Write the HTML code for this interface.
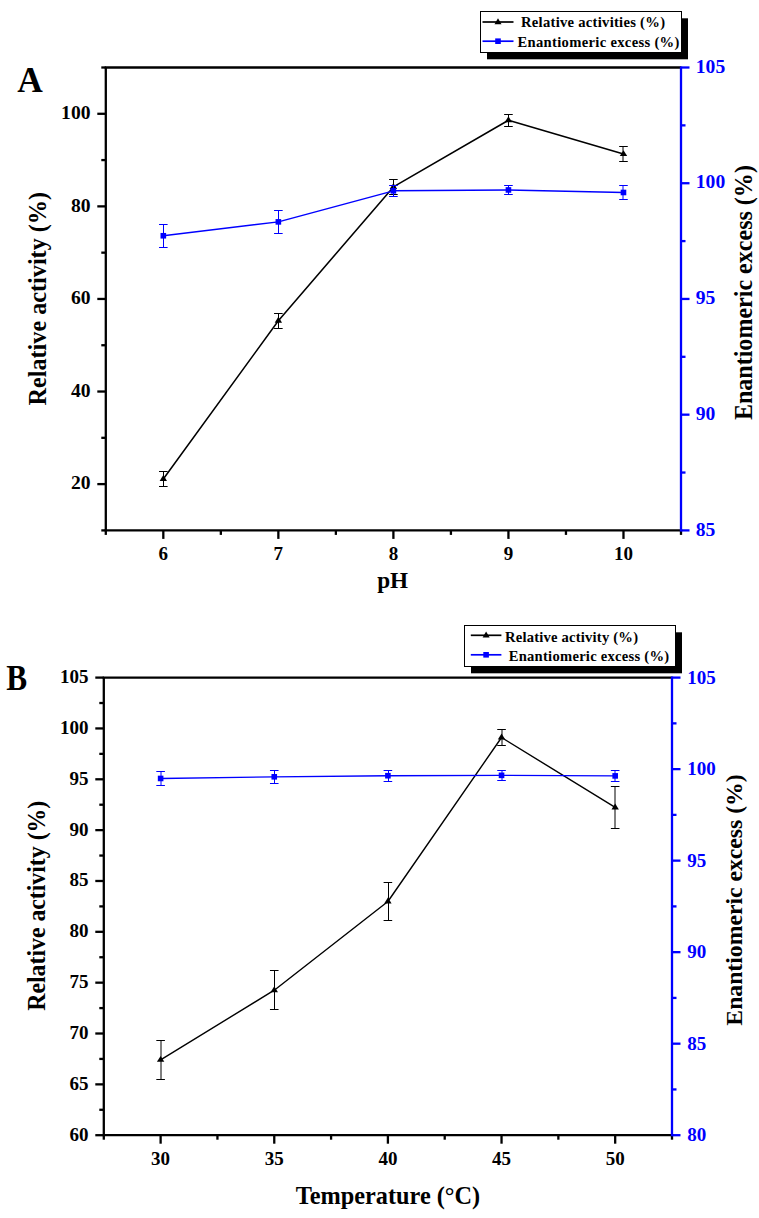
<!DOCTYPE html>
<html><head><meta charset="utf-8"><title>Chart</title>
<style>html,body{margin:0;padding:0;background:#fff;}svg{display:block;}
text{font-family:"Liberation Serif",serif;font-weight:bold;}</style></head>
<body><svg width="759" height="1218" viewBox="0 0 759 1218">
<rect width="759" height="1218" fill="#fff"/>
<line x1="97.3" y1="484.11" x2="105.8" y2="484.11" stroke="#000" stroke-width="2.3" stroke-linecap="butt"/>
<text x="90.5" y="489.41" font-size="19.6" text-anchor="end" fill="#000" >20</text>
<line x1="97.3" y1="391.53" x2="105.8" y2="391.53" stroke="#000" stroke-width="2.3" stroke-linecap="butt"/>
<text x="90.5" y="396.83" font-size="19.6" text-anchor="end" fill="#000" >40</text>
<line x1="97.3" y1="298.95" x2="105.8" y2="298.95" stroke="#000" stroke-width="2.3" stroke-linecap="butt"/>
<text x="90.5" y="304.25" font-size="19.6" text-anchor="end" fill="#000" >60</text>
<line x1="97.3" y1="206.37" x2="105.8" y2="206.37" stroke="#000" stroke-width="2.3" stroke-linecap="butt"/>
<text x="90.5" y="211.67" font-size="19.6" text-anchor="end" fill="#000" >80</text>
<line x1="97.3" y1="113.79" x2="105.8" y2="113.79" stroke="#000" stroke-width="2.3" stroke-linecap="butt"/>
<text x="90.5" y="119.09" font-size="19.6" text-anchor="end" fill="#000" >100</text>
<line x1="101.3" y1="530.4" x2="105.8" y2="530.4" stroke="#000" stroke-width="2.3" stroke-linecap="butt"/>
<line x1="101.3" y1="437.82" x2="105.8" y2="437.82" stroke="#000" stroke-width="2.3" stroke-linecap="butt"/>
<line x1="101.3" y1="345.24" x2="105.8" y2="345.24" stroke="#000" stroke-width="2.3" stroke-linecap="butt"/>
<line x1="101.3" y1="252.66" x2="105.8" y2="252.66" stroke="#000" stroke-width="2.3" stroke-linecap="butt"/>
<line x1="101.3" y1="160.08" x2="105.8" y2="160.08" stroke="#000" stroke-width="2.3" stroke-linecap="butt"/>
<line x1="101.3" y1="67.5" x2="105.8" y2="67.5" stroke="#000" stroke-width="2.3" stroke-linecap="butt"/>
<line x1="163.32" y1="530.4" x2="163.32" y2="538.9" stroke="#000" stroke-width="2.3" stroke-linecap="butt"/>
<text x="163.32" y="560.4" font-size="19" text-anchor="middle" fill="#000" >6</text>
<line x1="278.36" y1="530.4" x2="278.36" y2="538.9" stroke="#000" stroke-width="2.3" stroke-linecap="butt"/>
<text x="278.36" y="560.4" font-size="19" text-anchor="middle" fill="#000" >7</text>
<line x1="393.4" y1="530.4" x2="393.4" y2="538.9" stroke="#000" stroke-width="2.3" stroke-linecap="butt"/>
<text x="393.4" y="560.4" font-size="19" text-anchor="middle" fill="#000" >8</text>
<line x1="508.44" y1="530.4" x2="508.44" y2="538.9" stroke="#000" stroke-width="2.3" stroke-linecap="butt"/>
<text x="508.44" y="560.4" font-size="19" text-anchor="middle" fill="#000" >9</text>
<line x1="623.48" y1="530.4" x2="623.48" y2="538.9" stroke="#000" stroke-width="2.3" stroke-linecap="butt"/>
<text x="623.48" y="560.4" font-size="19" text-anchor="middle" fill="#000" >10</text>
<line x1="105.8" y1="530.4" x2="105.8" y2="534.9" stroke="#000" stroke-width="2.3" stroke-linecap="butt"/>
<line x1="220.84" y1="530.4" x2="220.84" y2="534.9" stroke="#000" stroke-width="2.3" stroke-linecap="butt"/>
<line x1="335.88" y1="530.4" x2="335.88" y2="534.9" stroke="#000" stroke-width="2.3" stroke-linecap="butt"/>
<line x1="450.92" y1="530.4" x2="450.92" y2="534.9" stroke="#000" stroke-width="2.3" stroke-linecap="butt"/>
<line x1="565.96" y1="530.4" x2="565.96" y2="534.9" stroke="#000" stroke-width="2.3" stroke-linecap="butt"/>
<line x1="681" y1="530.4" x2="681" y2="534.9" stroke="#000" stroke-width="2.3" stroke-linecap="butt"/>
<line x1="681" y1="530.4" x2="689.5" y2="530.4" stroke="#0000ff" stroke-width="2.3" stroke-linecap="butt"/>
<text x="695.8" y="535.5" font-size="19.6" text-anchor="start" fill="#0000ff" >85</text>
<line x1="681" y1="414.67" x2="689.5" y2="414.67" stroke="#0000ff" stroke-width="2.3" stroke-linecap="butt"/>
<text x="695.8" y="419.77" font-size="19.6" text-anchor="start" fill="#0000ff" >90</text>
<line x1="681" y1="298.95" x2="689.5" y2="298.95" stroke="#0000ff" stroke-width="2.3" stroke-linecap="butt"/>
<text x="695.8" y="304.05" font-size="19.6" text-anchor="start" fill="#0000ff" >95</text>
<line x1="681" y1="183.23" x2="689.5" y2="183.23" stroke="#0000ff" stroke-width="2.3" stroke-linecap="butt"/>
<text x="695.8" y="188.33" font-size="19.6" text-anchor="start" fill="#0000ff" >100</text>
<line x1="681" y1="67.5" x2="689.5" y2="67.5" stroke="#0000ff" stroke-width="2.3" stroke-linecap="butt"/>
<text x="695.8" y="72.6" font-size="19.6" text-anchor="start" fill="#0000ff" >105</text>
<line x1="681" y1="472.54" x2="685.5" y2="472.54" stroke="#0000ff" stroke-width="2.3" stroke-linecap="butt"/>
<line x1="681" y1="356.81" x2="685.5" y2="356.81" stroke="#0000ff" stroke-width="2.3" stroke-linecap="butt"/>
<line x1="681" y1="241.09" x2="685.5" y2="241.09" stroke="#0000ff" stroke-width="2.3" stroke-linecap="butt"/>
<line x1="681" y1="125.36" x2="685.5" y2="125.36" stroke="#0000ff" stroke-width="2.3" stroke-linecap="butt"/>
<line x1="104.7" y1="67.5" x2="681" y2="67.5" stroke="#000" stroke-width="2.3" stroke-linecap="butt"/>
<line x1="105.8" y1="67.5" x2="105.8" y2="530.4" stroke="#000" stroke-width="2.3" stroke-linecap="butt"/>
<line x1="104.7" y1="530.4" x2="682.1" y2="530.4" stroke="#000" stroke-width="2.3" stroke-linecap="butt"/>
<line x1="681" y1="66.4" x2="681" y2="531.5" stroke="#0000ff" stroke-width="2.3" stroke-linecap="butt"/>
<polyline points="163.32,479.02 278.36,320.71 393.4,186.93 508.44,120.27 623.48,154.06" fill="none" stroke="#000" stroke-width="1.55" stroke-linejoin="round"/>
<line x1="163.5" y1="471.5" x2="163.5" y2="486.5" stroke="#000" stroke-width="1.0" stroke-linecap="butt"/>
<line x1="159.02" y1="471.5" x2="167.62" y2="471.5" stroke="#000" stroke-width="1.0" stroke-linecap="butt"/>
<line x1="159.02" y1="486.5" x2="167.62" y2="486.5" stroke="#000" stroke-width="1.0" stroke-linecap="butt"/>
<path d="M163.32 475.08 L167.02 480.98 L159.62 480.98 Z" fill="#000"/>
<line x1="278.5" y1="313.5" x2="278.5" y2="328.5" stroke="#000" stroke-width="1.0" stroke-linecap="butt"/>
<line x1="274.06" y1="313.5" x2="282.66" y2="313.5" stroke="#000" stroke-width="1.0" stroke-linecap="butt"/>
<line x1="274.06" y1="328.5" x2="282.66" y2="328.5" stroke="#000" stroke-width="1.0" stroke-linecap="butt"/>
<path d="M278.36 316.77 L282.06 322.67 L274.66 322.67 Z" fill="#000"/>
<line x1="393.5" y1="179.5" x2="393.5" y2="194.5" stroke="#000" stroke-width="1.0" stroke-linecap="butt"/>
<line x1="389.1" y1="179.5" x2="397.7" y2="179.5" stroke="#000" stroke-width="1.0" stroke-linecap="butt"/>
<line x1="389.1" y1="194.5" x2="397.7" y2="194.5" stroke="#000" stroke-width="1.0" stroke-linecap="butt"/>
<path d="M393.4 182.99 L397.1 188.89 L389.7 188.89 Z" fill="#000"/>
<line x1="508.5" y1="114.5" x2="508.5" y2="126.5" stroke="#000" stroke-width="1.0" stroke-linecap="butt"/>
<line x1="504.14" y1="114.5" x2="512.74" y2="114.5" stroke="#000" stroke-width="1.0" stroke-linecap="butt"/>
<line x1="504.14" y1="126.5" x2="512.74" y2="126.5" stroke="#000" stroke-width="1.0" stroke-linecap="butt"/>
<path d="M508.44 116.34 L512.14 122.24 L504.74 122.24 Z" fill="#000"/>
<line x1="623" y1="146.5" x2="623" y2="161.5" stroke="#000" stroke-width="1.0" stroke-linecap="butt"/>
<line x1="619.18" y1="146.5" x2="627.78" y2="146.5" stroke="#000" stroke-width="1.0" stroke-linecap="butt"/>
<line x1="619.18" y1="161.5" x2="627.78" y2="161.5" stroke="#000" stroke-width="1.0" stroke-linecap="butt"/>
<path d="M623.48 150.13 L627.18 156.03 L619.78 156.03 Z" fill="#000"/>
<polyline points="163.32,235.76 278.36,221.88 393.4,190.86 508.44,189.94 623.48,192.48" fill="none" stroke="#0000ff" stroke-width="1.5" stroke-linejoin="round"/>
<line x1="163.5" y1="224.5" x2="163.5" y2="247.5" stroke="#0000ff" stroke-width="1.0" stroke-linecap="butt"/>
<line x1="159.02" y1="224.5" x2="167.62" y2="224.5" stroke="#0000ff" stroke-width="1.0" stroke-linecap="butt"/>
<line x1="159.02" y1="247.5" x2="167.62" y2="247.5" stroke="#0000ff" stroke-width="1.0" stroke-linecap="butt"/>
<rect x="160.52" y="232.96" width="5.6" height="5.6" fill="#0000ff"/>
<line x1="278.5" y1="210.5" x2="278.5" y2="233.5" stroke="#0000ff" stroke-width="1.0" stroke-linecap="butt"/>
<line x1="274.06" y1="210.5" x2="282.66" y2="210.5" stroke="#0000ff" stroke-width="1.0" stroke-linecap="butt"/>
<line x1="274.06" y1="233.5" x2="282.66" y2="233.5" stroke="#0000ff" stroke-width="1.0" stroke-linecap="butt"/>
<rect x="275.56" y="219.08" width="5.6" height="5.6" fill="#0000ff"/>
<line x1="393.5" y1="185.5" x2="393.5" y2="196.5" stroke="#0000ff" stroke-width="1.0" stroke-linecap="butt"/>
<line x1="389.1" y1="185.5" x2="397.7" y2="185.5" stroke="#0000ff" stroke-width="1.0" stroke-linecap="butt"/>
<line x1="389.1" y1="196.5" x2="397.7" y2="196.5" stroke="#0000ff" stroke-width="1.0" stroke-linecap="butt"/>
<rect x="390.6" y="188.06" width="5.6" height="5.6" fill="#0000ff"/>
<line x1="508.5" y1="185.5" x2="508.5" y2="194.5" stroke="#0000ff" stroke-width="1.0" stroke-linecap="butt"/>
<line x1="504.14" y1="185.5" x2="512.74" y2="185.5" stroke="#0000ff" stroke-width="1.0" stroke-linecap="butt"/>
<line x1="504.14" y1="194.5" x2="512.74" y2="194.5" stroke="#0000ff" stroke-width="1.0" stroke-linecap="butt"/>
<rect x="505.64" y="187.14" width="5.6" height="5.6" fill="#0000ff"/>
<line x1="623" y1="185.5" x2="623" y2="199.5" stroke="#0000ff" stroke-width="1.0" stroke-linecap="butt"/>
<line x1="619.18" y1="185.5" x2="627.78" y2="185.5" stroke="#0000ff" stroke-width="1.0" stroke-linecap="butt"/>
<line x1="619.18" y1="199.5" x2="627.78" y2="199.5" stroke="#0000ff" stroke-width="1.0" stroke-linecap="butt"/>
<rect x="620.68" y="189.68" width="5.6" height="5.6" fill="#0000ff"/>
<rect x="487" y="18.3" width="201" height="41" fill="#000"/>
<rect x="480.5" y="11.5" width="201" height="41" fill="#fff" stroke="#000" stroke-width="1"/>
<line x1="482.5" y1="22" x2="513.5" y2="22" stroke="#000" stroke-width="1.7" stroke-linecap="butt"/>
<path d="M498 18.2 L501.5 24.2 L494.5 24.2 Z" fill="#000"/>
<line x1="482.5" y1="41.2" x2="513.5" y2="41.2" stroke="#0000ff" stroke-width="1.7" stroke-linecap="butt"/>
<rect x="495.2" y="38.4" width="5.6" height="5.6" fill="#0000ff"/>
<text x="521" y="27.2" font-size="14.6" text-anchor="start" fill="#000" textLength="144" lengthAdjust="spacing">Relative activities (%)</text>
<text x="517.4" y="46.8" font-size="14.6" text-anchor="start" fill="#000" textLength="162" lengthAdjust="spacing">Enantiomeric excess (%)</text>
<text transform="translate(17.2,91.9) scale(1.04,1.04)" font-size="34">A</text>
<text transform="translate(45.8,298.7) rotate(-90) scale(1,1.04)" font-size="24.2" text-anchor="middle">Relative activity (%)</text>
<text transform="translate(752,292.6) rotate(-90) scale(1,1.02)" font-size="24.05" text-anchor="middle">Enantiomeric excess (%)</text>
<text transform="translate(392.6,587.8) scale(1,1.02)" font-size="23.2" text-anchor="middle">pH</text>
<line x1="95.3" y1="1135.2" x2="103.8" y2="1135.2" stroke="#000" stroke-width="2.3" stroke-linecap="butt"/>
<text x="88.4" y="1140.7" font-size="19" text-anchor="end" fill="#000" >60</text>
<line x1="95.3" y1="1084.36" x2="103.8" y2="1084.36" stroke="#000" stroke-width="2.3" stroke-linecap="butt"/>
<text x="88.4" y="1089.86" font-size="19" text-anchor="end" fill="#000" >65</text>
<line x1="95.3" y1="1033.51" x2="103.8" y2="1033.51" stroke="#000" stroke-width="2.3" stroke-linecap="butt"/>
<text x="88.4" y="1039.01" font-size="19" text-anchor="end" fill="#000" >70</text>
<line x1="95.3" y1="982.67" x2="103.8" y2="982.67" stroke="#000" stroke-width="2.3" stroke-linecap="butt"/>
<text x="88.4" y="988.17" font-size="19" text-anchor="end" fill="#000" >75</text>
<line x1="95.3" y1="931.82" x2="103.8" y2="931.82" stroke="#000" stroke-width="2.3" stroke-linecap="butt"/>
<text x="88.4" y="937.32" font-size="19" text-anchor="end" fill="#000" >80</text>
<line x1="95.3" y1="880.98" x2="103.8" y2="880.98" stroke="#000" stroke-width="2.3" stroke-linecap="butt"/>
<text x="88.4" y="886.48" font-size="19" text-anchor="end" fill="#000" >85</text>
<line x1="95.3" y1="830.13" x2="103.8" y2="830.13" stroke="#000" stroke-width="2.3" stroke-linecap="butt"/>
<text x="88.4" y="835.63" font-size="19" text-anchor="end" fill="#000" >90</text>
<line x1="95.3" y1="779.29" x2="103.8" y2="779.29" stroke="#000" stroke-width="2.3" stroke-linecap="butt"/>
<text x="88.4" y="784.79" font-size="19" text-anchor="end" fill="#000" >95</text>
<line x1="95.3" y1="728.44" x2="103.8" y2="728.44" stroke="#000" stroke-width="2.3" stroke-linecap="butt"/>
<text x="88.4" y="733.94" font-size="19" text-anchor="end" fill="#000" >100</text>
<line x1="95.3" y1="677.6" x2="103.8" y2="677.6" stroke="#000" stroke-width="2.3" stroke-linecap="butt"/>
<text x="88.4" y="683.1" font-size="19" text-anchor="end" fill="#000" >105</text>
<line x1="99.3" y1="1109.78" x2="103.8" y2="1109.78" stroke="#000" stroke-width="2.3" stroke-linecap="butt"/>
<line x1="99.3" y1="1058.93" x2="103.8" y2="1058.93" stroke="#000" stroke-width="2.3" stroke-linecap="butt"/>
<line x1="99.3" y1="1008.09" x2="103.8" y2="1008.09" stroke="#000" stroke-width="2.3" stroke-linecap="butt"/>
<line x1="99.3" y1="957.24" x2="103.8" y2="957.24" stroke="#000" stroke-width="2.3" stroke-linecap="butt"/>
<line x1="99.3" y1="906.4" x2="103.8" y2="906.4" stroke="#000" stroke-width="2.3" stroke-linecap="butt"/>
<line x1="99.3" y1="855.56" x2="103.8" y2="855.56" stroke="#000" stroke-width="2.3" stroke-linecap="butt"/>
<line x1="99.3" y1="804.71" x2="103.8" y2="804.71" stroke="#000" stroke-width="2.3" stroke-linecap="butt"/>
<line x1="99.3" y1="753.87" x2="103.8" y2="753.87" stroke="#000" stroke-width="2.3" stroke-linecap="butt"/>
<line x1="99.3" y1="703.02" x2="103.8" y2="703.02" stroke="#000" stroke-width="2.3" stroke-linecap="butt"/>
<line x1="160.62" y1="1135.2" x2="160.62" y2="1143.7" stroke="#000" stroke-width="2.3" stroke-linecap="butt"/>
<text x="160.62" y="1165" font-size="19" text-anchor="middle" fill="#000" >30</text>
<line x1="274.26" y1="1135.2" x2="274.26" y2="1143.7" stroke="#000" stroke-width="2.3" stroke-linecap="butt"/>
<text x="274.26" y="1165" font-size="19" text-anchor="middle" fill="#000" >35</text>
<line x1="387.9" y1="1135.2" x2="387.9" y2="1143.7" stroke="#000" stroke-width="2.3" stroke-linecap="butt"/>
<text x="387.9" y="1165" font-size="19" text-anchor="middle" fill="#000" >40</text>
<line x1="501.54" y1="1135.2" x2="501.54" y2="1143.7" stroke="#000" stroke-width="2.3" stroke-linecap="butt"/>
<text x="501.54" y="1165" font-size="19" text-anchor="middle" fill="#000" >45</text>
<line x1="615.18" y1="1135.2" x2="615.18" y2="1143.7" stroke="#000" stroke-width="2.3" stroke-linecap="butt"/>
<text x="615.18" y="1165" font-size="19" text-anchor="middle" fill="#000" >50</text>
<line x1="103.8" y1="1135.2" x2="103.8" y2="1139.7" stroke="#000" stroke-width="2.3" stroke-linecap="butt"/>
<line x1="217.44" y1="1135.2" x2="217.44" y2="1139.7" stroke="#000" stroke-width="2.3" stroke-linecap="butt"/>
<line x1="331.08" y1="1135.2" x2="331.08" y2="1139.7" stroke="#000" stroke-width="2.3" stroke-linecap="butt"/>
<line x1="444.72" y1="1135.2" x2="444.72" y2="1139.7" stroke="#000" stroke-width="2.3" stroke-linecap="butt"/>
<line x1="558.36" y1="1135.2" x2="558.36" y2="1139.7" stroke="#000" stroke-width="2.3" stroke-linecap="butt"/>
<line x1="672" y1="1135.2" x2="672" y2="1139.7" stroke="#000" stroke-width="2.3" stroke-linecap="butt"/>
<line x1="672" y1="1135.2" x2="680.5" y2="1135.2" stroke="#0000ff" stroke-width="2.3" stroke-linecap="butt"/>
<text x="687.2" y="1141.2" font-size="19" text-anchor="start" fill="#0000ff" >80</text>
<line x1="672" y1="1043.68" x2="680.5" y2="1043.68" stroke="#0000ff" stroke-width="2.3" stroke-linecap="butt"/>
<text x="687.2" y="1049.68" font-size="19" text-anchor="start" fill="#0000ff" >85</text>
<line x1="672" y1="952.16" x2="680.5" y2="952.16" stroke="#0000ff" stroke-width="2.3" stroke-linecap="butt"/>
<text x="687.2" y="958.16" font-size="19" text-anchor="start" fill="#0000ff" >90</text>
<line x1="672" y1="860.64" x2="680.5" y2="860.64" stroke="#0000ff" stroke-width="2.3" stroke-linecap="butt"/>
<text x="687.2" y="866.64" font-size="19" text-anchor="start" fill="#0000ff" >95</text>
<line x1="672" y1="769.12" x2="680.5" y2="769.12" stroke="#0000ff" stroke-width="2.3" stroke-linecap="butt"/>
<text x="687.2" y="775.12" font-size="19" text-anchor="start" fill="#0000ff" >100</text>
<line x1="672" y1="677.6" x2="680.5" y2="677.6" stroke="#0000ff" stroke-width="2.3" stroke-linecap="butt"/>
<text x="687.2" y="683.6" font-size="19" text-anchor="start" fill="#0000ff" >105</text>
<line x1="672" y1="1089.44" x2="676.5" y2="1089.44" stroke="#0000ff" stroke-width="2.3" stroke-linecap="butt"/>
<line x1="672" y1="997.92" x2="676.5" y2="997.92" stroke="#0000ff" stroke-width="2.3" stroke-linecap="butt"/>
<line x1="672" y1="906.4" x2="676.5" y2="906.4" stroke="#0000ff" stroke-width="2.3" stroke-linecap="butt"/>
<line x1="672" y1="814.88" x2="676.5" y2="814.88" stroke="#0000ff" stroke-width="2.3" stroke-linecap="butt"/>
<line x1="672" y1="723.36" x2="676.5" y2="723.36" stroke="#0000ff" stroke-width="2.3" stroke-linecap="butt"/>
<line x1="102.7" y1="677.6" x2="672" y2="677.6" stroke="#000" stroke-width="2.3" stroke-linecap="butt"/>
<line x1="103.8" y1="677.6" x2="103.8" y2="1135.2" stroke="#000" stroke-width="2.3" stroke-linecap="butt"/>
<line x1="102.7" y1="1135.2" x2="673.1" y2="1135.2" stroke="#000" stroke-width="2.3" stroke-linecap="butt"/>
<line x1="672" y1="676.5" x2="672" y2="1136.3" stroke="#0000ff" stroke-width="2.3" stroke-linecap="butt"/>
<polyline points="160.62,1059.85 274.26,990.19 387.9,901.52 501.54,737.49 615.18,807.46" fill="none" stroke="#000" stroke-width="1.4" stroke-linejoin="round"/>
<line x1="161" y1="1040.5" x2="161" y2="1079.5" stroke="#000" stroke-width="1.0" stroke-linecap="butt"/>
<line x1="156.32" y1="1040.5" x2="164.92" y2="1040.5" stroke="#000" stroke-width="1.0" stroke-linecap="butt"/>
<line x1="156.32" y1="1079.5" x2="164.92" y2="1079.5" stroke="#000" stroke-width="1.0" stroke-linecap="butt"/>
<path d="M160.62 1055.92 L164.32 1061.82 L156.92 1061.82 Z" fill="#000"/>
<line x1="274.5" y1="970.5" x2="274.5" y2="1009.5" stroke="#000" stroke-width="1.0" stroke-linecap="butt"/>
<line x1="269.96" y1="970.5" x2="278.56" y2="970.5" stroke="#000" stroke-width="1.0" stroke-linecap="butt"/>
<line x1="269.96" y1="1009.5" x2="278.56" y2="1009.5" stroke="#000" stroke-width="1.0" stroke-linecap="butt"/>
<path d="M274.26 986.26 L277.96 992.16 L270.56 992.16 Z" fill="#000"/>
<line x1="388.5" y1="882.5" x2="388.5" y2="920.5" stroke="#000" stroke-width="1.0" stroke-linecap="butt"/>
<line x1="383.6" y1="882.5" x2="392.2" y2="882.5" stroke="#000" stroke-width="1.0" stroke-linecap="butt"/>
<line x1="383.6" y1="920.5" x2="392.2" y2="920.5" stroke="#000" stroke-width="1.0" stroke-linecap="butt"/>
<path d="M387.9 897.59 L391.6 903.49 L384.2 903.49 Z" fill="#000"/>
<line x1="502" y1="729.5" x2="502" y2="745.5" stroke="#000" stroke-width="1.0" stroke-linecap="butt"/>
<line x1="497.24" y1="729.5" x2="505.84" y2="729.5" stroke="#000" stroke-width="1.0" stroke-linecap="butt"/>
<line x1="497.24" y1="745.5" x2="505.84" y2="745.5" stroke="#000" stroke-width="1.0" stroke-linecap="butt"/>
<path d="M501.54 733.56 L505.24 739.46 L497.84 739.46 Z" fill="#000"/>
<line x1="615" y1="786.5" x2="615" y2="828.5" stroke="#000" stroke-width="1.0" stroke-linecap="butt"/>
<line x1="610.88" y1="786.5" x2="619.48" y2="786.5" stroke="#000" stroke-width="1.0" stroke-linecap="butt"/>
<line x1="610.88" y1="828.5" x2="619.48" y2="828.5" stroke="#000" stroke-width="1.0" stroke-linecap="butt"/>
<path d="M615.18 803.52 L618.88 809.42 L611.48 809.42 Z" fill="#000"/>
<polyline points="160.62,778.46 274.26,776.81 387.9,775.71 501.54,775.34 615.18,775.89" fill="none" stroke="#0000ff" stroke-width="1.35" stroke-linejoin="round"/>
<line x1="161" y1="771.5" x2="161" y2="785.5" stroke="#0000ff" stroke-width="1.0" stroke-linecap="butt"/>
<line x1="156.32" y1="771.5" x2="164.92" y2="771.5" stroke="#0000ff" stroke-width="1.0" stroke-linecap="butt"/>
<line x1="156.32" y1="785.5" x2="164.92" y2="785.5" stroke="#0000ff" stroke-width="1.0" stroke-linecap="butt"/>
<rect x="157.82" y="775.66" width="5.6" height="5.6" fill="#0000ff"/>
<line x1="274.5" y1="770.5" x2="274.5" y2="783.5" stroke="#0000ff" stroke-width="1.0" stroke-linecap="butt"/>
<line x1="269.96" y1="770.5" x2="278.56" y2="770.5" stroke="#0000ff" stroke-width="1.0" stroke-linecap="butt"/>
<line x1="269.96" y1="783.5" x2="278.56" y2="783.5" stroke="#0000ff" stroke-width="1.0" stroke-linecap="butt"/>
<rect x="271.46" y="774.01" width="5.6" height="5.6" fill="#0000ff"/>
<line x1="388.5" y1="770.5" x2="388.5" y2="781.5" stroke="#0000ff" stroke-width="1.0" stroke-linecap="butt"/>
<line x1="383.6" y1="770.5" x2="392.2" y2="770.5" stroke="#0000ff" stroke-width="1.0" stroke-linecap="butt"/>
<line x1="383.6" y1="781.5" x2="392.2" y2="781.5" stroke="#0000ff" stroke-width="1.0" stroke-linecap="butt"/>
<rect x="385.1" y="772.91" width="5.6" height="5.6" fill="#0000ff"/>
<line x1="502" y1="770.5" x2="502" y2="780.5" stroke="#0000ff" stroke-width="1.0" stroke-linecap="butt"/>
<line x1="497.24" y1="770.5" x2="505.84" y2="770.5" stroke="#0000ff" stroke-width="1.0" stroke-linecap="butt"/>
<line x1="497.24" y1="780.5" x2="505.84" y2="780.5" stroke="#0000ff" stroke-width="1.0" stroke-linecap="butt"/>
<rect x="498.74" y="772.54" width="5.6" height="5.6" fill="#0000ff"/>
<line x1="615" y1="770.5" x2="615" y2="781.5" stroke="#0000ff" stroke-width="1.0" stroke-linecap="butt"/>
<line x1="610.88" y1="770.5" x2="619.48" y2="770.5" stroke="#0000ff" stroke-width="1.0" stroke-linecap="butt"/>
<line x1="610.88" y1="781.5" x2="619.48" y2="781.5" stroke="#0000ff" stroke-width="1.0" stroke-linecap="butt"/>
<rect x="612.38" y="773.09" width="5.6" height="5.6" fill="#0000ff"/>
<rect x="471" y="632.3" width="211" height="41" fill="#000"/>
<rect x="464.5" y="625.5" width="211" height="41" fill="#fff" stroke="#000" stroke-width="1"/>
<line x1="470.8" y1="635.3" x2="501.4" y2="635.3" stroke="#000" stroke-width="1.7" stroke-linecap="butt"/>
<path d="M486.1 631.5 L489.6 637.5 L482.6 637.5 Z" fill="#000"/>
<line x1="470.8" y1="654.8" x2="501.4" y2="654.8" stroke="#0000ff" stroke-width="1.7" stroke-linecap="butt"/>
<rect x="483.3" y="652" width="5.6" height="5.6" fill="#0000ff"/>
<text x="505" y="641.9" font-size="14.6" text-anchor="start" fill="#000" textLength="133" lengthAdjust="spacing">Relative activity (%)</text>
<text x="508.7" y="660.8" font-size="14.6" text-anchor="start" fill="#000" textLength="160.5" lengthAdjust="spacing">Enantiomeric excess (%)</text>
<text transform="translate(6.2,689.5) scale(0.92,1.04)" font-size="34">B</text>
<text transform="translate(44.5,905.75) rotate(-90) scale(1,1.04)" font-size="23.8" text-anchor="middle">Relative activity (%)</text>
<text transform="translate(742.2,900) rotate(-90) scale(1,1.0)" font-size="23.7" text-anchor="middle">Enantiomeric excess (%)</text>
<text transform="translate(388,1204.3) scale(1,1.01)" font-size="24.3" text-anchor="middle">Temperature (°C)</text>
</svg></body></html>
